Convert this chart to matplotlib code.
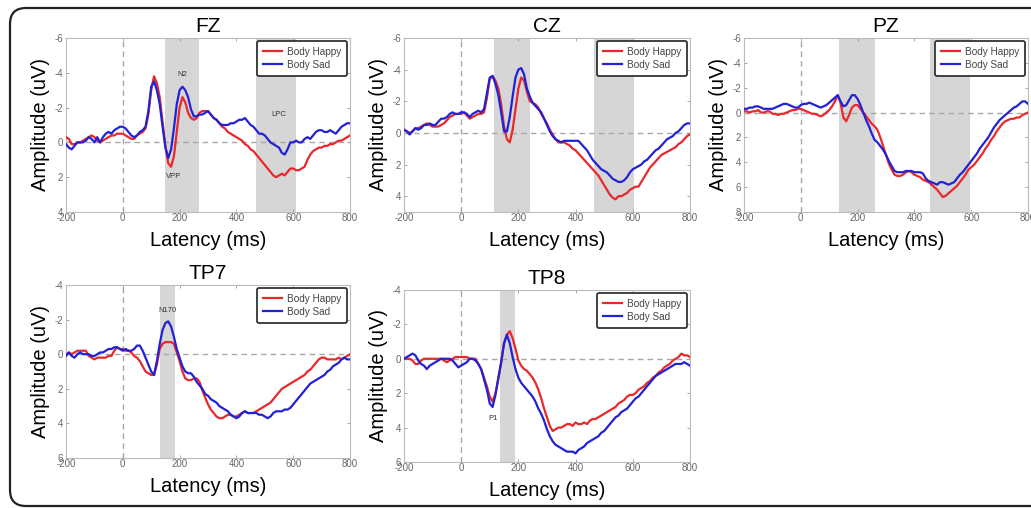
import numpy as np
import matplotlib
matplotlib.use('Agg')
import matplotlib.pyplot as plt
from matplotlib.patches import FancyBboxPatch

plt.rcParams['font.family'] = ['Liberation Sans', 'DejaVu Sans']
plt.rcParams['axes.unicode_minus'] = False

# latency axis, -200..800 ms in 10 ms steps
latency = list(range(-200, 801, 10))

fz_happy = [-0.3, -0.2, 0.1, 0.1, 0.0, 0.0, -0.1, -0.2, -0.3, -0.4,
            -0.3, -0.1, 0.0, -0.1, -0.2, -0.3, -0.4, -0.4, -0.5, -0.5,
            -0.5, -0.4, -0.3, -0.2, -0.2, -0.4, -0.5, -0.6, -0.8, -1.6,
            -3.0, -3.8, -3.4, -2.6, -1.2, 0.2, 1.2, 1.4, 0.8, -0.6,
            -2.0, -2.6, -2.3, -1.7, -1.4, -1.3, -1.4, -1.7, -1.8, -1.8,
            -1.8, -1.6, -1.4, -1.3, -1.1, -0.9, -0.8, -0.6, -0.5, -0.4,
            -0.3, -0.2, -0.1, 0.1, 0.2, 0.4, 0.5, 0.7, 0.9, 1.1,
            1.3, 1.5, 1.7, 1.9, 2.0, 1.9, 1.8, 1.9, 1.7, 1.5,
            1.5, 1.6, 1.6, 1.5, 1.4, 1.0, 0.7, 0.5, 0.4, 0.3,
            0.3, 0.2, 0.2, 0.1, 0.1, 0.0, -0.1, -0.1, -0.2, -0.3,
            -0.4]
fz_sad = [0.1, 0.3, 0.4, 0.2, 0.0, 0.0, 0.0, -0.1, -0.3, -0.2,
          0.0, -0.3, 0.0, -0.3, -0.5, -0.6, -0.5, -0.7, -0.8, -0.9,
          -0.9, -0.8, -0.6, -0.4, -0.3, -0.4, -0.6, -0.7, -0.9, -1.8,
          -3.2, -3.5, -3.0, -2.2, -0.9, 0.3, 0.9, 0.4, -0.8, -2.2,
          -3.0, -3.2, -3.0, -2.6, -1.9, -1.5, -1.5, -1.6, -1.6, -1.7,
          -1.8, -1.6, -1.4, -1.3, -1.1, -1.0, -1.0, -1.0, -1.1, -1.1,
          -1.2, -1.3, -1.3, -1.4, -1.2, -1.0, -0.9, -0.7, -0.5, -0.5,
          -0.4, -0.2, 0.0, 0.1, 0.2, 0.3, 0.6, 0.7, 0.4, 0.0,
          0.0, -0.1, 0.0, 0.0, -0.2, -0.3, -0.2, -0.4, -0.6, -0.7,
          -0.7, -0.6, -0.6, -0.7, -0.6, -0.5, -0.7, -0.9, -1.0, -1.1,
          -1.1]

cz_happy = [-0.2, -0.1, 0.0, -0.1, -0.3, -0.3, -0.4, -0.5, -0.6, -0.5,
            -0.4, -0.4, -0.4, -0.5, -0.6, -0.8, -1.0, -1.1, -1.2, -1.2,
            -1.2, -1.3, -1.1, -0.9, -1.0, -1.1, -1.2, -1.2, -1.3, -2.2,
            -3.4, -3.6, -3.3, -2.8, -1.8, -0.4, 0.4, 0.6, -0.2, -1.5,
            -2.8, -3.5, -3.3, -2.6, -2.0, -1.9, -1.8, -1.6, -1.2, -0.9,
            -0.6, -0.2, 0.1, 0.4, 0.6, 0.6, 0.6, 0.7, 0.8, 1.0,
            1.1, 1.3, 1.5, 1.7, 1.9, 2.1, 2.3, 2.5, 2.7, 3.0,
            3.3, 3.6, 3.9, 4.1, 4.2, 4.0, 4.0, 3.9, 3.8, 3.6,
            3.5, 3.4, 3.4, 3.1, 2.8, 2.5, 2.2, 2.0, 1.8, 1.6,
            1.4, 1.3, 1.2, 1.1, 1.0, 0.9, 0.7, 0.6, 0.4, 0.2,
            0.1]
cz_sad = [-0.2, -0.1, 0.1, -0.1, -0.3, -0.2, -0.3, -0.5, -0.5, -0.6,
          -0.5, -0.5, -0.7, -0.9, -0.9, -1.0, -1.2, -1.3, -1.2, -1.2,
          -1.3, -1.3, -1.2, -1.0, -1.2, -1.3, -1.4, -1.3, -1.5, -2.5,
          -3.5, -3.6, -3.1, -2.4, -1.3, -0.1, -0.1, -1.0, -2.3, -3.5,
          -4.0, -4.1, -3.7, -2.8, -2.3, -1.9, -1.7, -1.5, -1.3, -0.9,
          -0.5, -0.1, 0.2, 0.4, 0.5, 0.6, 0.5, 0.5, 0.5, 0.5,
          0.5, 0.5, 0.7, 0.9, 1.1, 1.4, 1.7, 1.9, 2.1, 2.3,
          2.4, 2.5, 2.7, 2.9, 3.0, 3.1, 3.1, 3.0, 2.8, 2.5,
          2.3, 2.2, 2.1, 2.0, 1.8, 1.7, 1.5, 1.3, 1.1, 1.0,
          0.8, 0.6, 0.4, 0.3, 0.2, 0.0, -0.1, -0.3, -0.5, -0.6,
          -0.6]

pz_happy = [-0.1, -0.1, 0.0, -0.1, -0.1, -0.2, 0.0, 0.0, -0.1, -0.1,
            0.1, 0.1, 0.2, 0.1, 0.1, 0.0, -0.1, -0.2, -0.2, -0.3,
            -0.3, -0.2, -0.1, 0.0, 0.1, 0.1, 0.2, 0.3, 0.2, 0.0,
            -0.2, -0.5, -0.9, -1.4, -0.8, 0.4, 0.7, 0.2, -0.4, -0.6,
            -0.6, -0.3, 0.0, 0.3, 0.6, 0.9, 1.1, 1.4, 2.0, 2.7,
            3.4, 4.1, 4.6, 5.0, 5.1, 5.1, 5.0, 4.8, 4.7, 4.8,
            5.0, 5.1, 5.2, 5.4, 5.5, 5.6, 5.8, 6.0, 6.2, 6.5,
            6.8, 6.7, 6.5, 6.3, 6.1, 5.9, 5.6, 5.3, 5.0, 4.6,
            4.4, 4.2, 3.9, 3.6, 3.3, 2.9, 2.6, 2.2, 1.9, 1.5,
            1.2, 0.9, 0.7, 0.6, 0.5, 0.5, 0.4, 0.4, 0.2, 0.1,
            0.0]
pz_sad = [-0.3, -0.3, -0.4, -0.4, -0.5, -0.5, -0.4, -0.3, -0.3, -0.3,
          -0.3, -0.4, -0.5, -0.6, -0.7, -0.7, -0.6, -0.5, -0.4, -0.4,
          -0.6, -0.7, -0.7, -0.8, -0.7, -0.6, -0.5, -0.4, -0.5, -0.6,
          -0.8, -1.0, -1.2, -1.4, -0.9, -0.5, -0.6, -1.0, -1.4, -1.4,
          -1.1, -0.6, 0.0, 0.6, 1.1, 1.7, 2.2, 2.4, 2.7, 3.0,
          3.4, 3.9, 4.3, 4.7, 4.8, 4.8, 4.8, 4.7, 4.7, 4.7,
          4.8, 4.8, 4.8, 4.9, 5.3, 5.5, 5.6, 5.7, 5.8, 5.6,
          5.6, 5.7, 5.8, 5.7, 5.6, 5.3, 5.0, 4.8, 4.5, 4.2,
          3.9, 3.6, 3.3, 2.9, 2.6, 2.3, 2.0, 1.6, 1.2, 0.9,
          0.6, 0.4, 0.2, 0.0, -0.2, -0.4, -0.5, -0.7, -0.9, -0.9,
          -0.7]

tp7_happy = [0.0, -0.1, 0.0, -0.1, -0.2, -0.2, -0.2, -0.2, 0.1, 0.2,
             0.3, 0.2, 0.2, 0.2, 0.2, 0.1, 0.1, -0.2, -0.4, -0.3,
             -0.3, -0.2, -0.2, -0.1, 0.1, 0.2, 0.4, 0.7, 1.0, 1.1,
             1.2, 1.2, 0.6, -0.3, -0.6, -0.7, -0.7, -0.7, -0.6, -0.1,
             0.4, 1.0, 1.4, 1.5, 1.5, 1.4, 1.4, 1.6, 2.1, 2.5,
             2.9, 3.2, 3.4, 3.6, 3.7, 3.7, 3.6, 3.5, 3.5, 3.6,
             3.6, 3.5, 3.4, 3.3, 3.4, 3.4, 3.4, 3.3, 3.2, 3.1,
             3.0, 2.9, 2.8, 2.6, 2.4, 2.2, 2.0, 1.9, 1.8, 1.7,
             1.6, 1.5, 1.4, 1.3, 1.2, 1.0, 0.9, 0.7, 0.5, 0.3,
             0.2, 0.2, 0.3, 0.3, 0.3, 0.3, 0.2, 0.3, 0.2, 0.1,
             0.0]
tp7_sad = [0.1, -0.1, 0.1, 0.2, 0.0, -0.1, 0.0, 0.0, 0.0, 0.1,
           0.1, 0.0, -0.1, -0.1, -0.2, -0.3, -0.3, -0.4, -0.4, -0.3,
           -0.2, -0.3, -0.2, -0.2, -0.3, -0.5, -0.5, -0.2, 0.2, 0.6,
           1.0, 1.2, 0.4, -0.6, -1.4, -1.8, -1.9, -1.6, -1.0, -0.3,
           0.2, 0.7, 1.0, 1.1, 1.1, 1.3, 1.6, 1.8, 2.0, 2.3,
           2.4, 2.6, 2.7, 2.8, 3.0, 3.1, 3.2, 3.3, 3.5, 3.6,
           3.7, 3.6, 3.4, 3.3, 3.4, 3.4, 3.4, 3.4, 3.5, 3.5,
           3.6, 3.7, 3.6, 3.4, 3.3, 3.3, 3.3, 3.2, 3.2, 3.1,
           2.9, 2.7, 2.5, 2.3, 2.1, 1.9, 1.7, 1.6, 1.5, 1.4,
           1.3, 1.2, 1.0, 0.9, 0.7, 0.6, 0.5, 0.3, 0.2, 0.3,
           0.3]

tp8_happy = [0.0, 0.0, 0.0, 0.1, 0.3, 0.3, 0.1, 0.0, 0.0, 0.0,
             0.0, 0.0, 0.0, 0.0, 0.1, 0.2, 0.1, 0.0, -0.1, -0.1,
             -0.1, -0.1, -0.1, 0.0, 0.0, 0.0, 0.3, 0.6, 1.1, 1.6,
             2.2, 2.5, 2.0, 1.2, 0.2, -0.9, -1.4, -1.6, -1.2, -0.6,
             0.1, 0.4, 0.6, 0.7, 0.9, 1.1, 1.4, 1.8, 2.3, 2.9,
             3.4, 3.9, 4.2, 4.1, 4.0, 4.0, 3.9, 3.8, 3.8, 3.9,
             3.7, 3.8, 3.8, 3.7, 3.8, 3.6, 3.5, 3.5, 3.4, 3.3,
             3.2, 3.1, 3.0, 2.9, 2.8, 2.6, 2.5, 2.4, 2.2, 2.1,
             2.1, 2.0, 1.8, 1.7, 1.6, 1.4, 1.3, 1.1, 1.0, 0.8,
             0.7, 0.5, 0.4, 0.3, 0.1, 0.0, -0.1, -0.3, -0.2, -0.2,
             -0.1]
tp8_sad = [0.0, -0.1, -0.2, -0.3, -0.2, 0.1, 0.3, 0.4, 0.6, 0.4,
           0.3, 0.2, 0.1, 0.0, 0.0, 0.0, 0.0, 0.1, 0.3, 0.5,
           0.4, 0.3, 0.2, 0.0, 0.0, 0.1, 0.3, 0.6, 1.2, 1.8,
           2.6, 2.8, 2.1, 1.1, 0.2, -0.9, -1.4, -0.9, -0.1, 0.6,
           1.1, 1.4, 1.6, 1.8, 2.0, 2.2, 2.5, 2.9, 3.2, 3.6,
           4.1, 4.5, 4.8, 5.0, 5.1, 5.2, 5.3, 5.4, 5.4, 5.4,
           5.5, 5.3, 5.2, 5.1, 4.9, 4.8, 4.7, 4.6, 4.5, 4.3,
           4.2, 4.0, 3.8, 3.6, 3.4, 3.3, 3.1, 3.0, 2.9, 2.7,
           2.5, 2.3, 2.2, 2.0, 1.8, 1.6, 1.4, 1.2, 1.0, 0.9,
           0.8, 0.7, 0.6, 0.5, 0.4, 0.3, 0.3, 0.3, 0.2, 0.3,
           0.4]

# analysis windows (ms) and component labels
fz_windows = [(150, 270), (470, 610)]
cz_windows = [(115, 240), (465, 605)]
pz_windows = [(135, 260), (455, 595)]
tp7_windows = [(130, 185)]
tp8_windows = [(135, 190)]

fz_notes = [('N2', 208, -3.9), ('VPP', 178, 1.95), ('LPC', 548, -1.6)]
tp7_notes = [('N170', 157, -2.5)]
tp8_notes = [('P1', 110, 3.5)]

RED = '#e8282b'
BLUE = '#2222d4'
SHADE = '#d6d6d6'


def draw_panel(rect, title, happy, sad, ylim, windows, notes):
    ax = fig.add_axes(rect)
    for a, b in windows:
        ax.axvspan(a, b, color=SHADE, lw=0, zorder=0)
    ax.axhline(0, color='#a8a8a8', lw=1.0, ls=(0, (4, 3)), zorder=1)
    ax.axvline(0, color='#a8a8a8', lw=1.0, ls=(0, (4, 3)), zorder=1)
    ax.plot(latency, happy, color=RED, lw=1.6, label='Body Happy', zorder=3)
    ax.plot(latency, sad, color=BLUE, lw=1.6, label='Body Sad', zorder=3)
    for txt, x, y in notes:
        ax.text(x, y, txt, fontsize=5.5, color='#333333', ha='center', va='center')

    ax.set_xlim(-200, 800)
    ax.set_ylim(ylim[1], ylim[0])
    ax.set_xticks([-200, 0, 200, 400, 600, 800])
    ax.set_yticks(np.arange(ylim[0], ylim[1] + 0.1, 2))
    ax.tick_params(direction='in', length=2.5, width=0.6, colors='#999999',
                   labelcolor='#666666', labelsize=7, top=True, right=True)
    ax.tick_params(axis='x', pad=0.5)
    ax.tick_params(axis='y', pad=2)
    for sp in ax.spines.values():
        sp.set_color('#bbbbbb')
        sp.set_linewidth(0.8)
    ax.set_title(title, fontsize=15, pad=4)
    ax.set_xlabel('Latency (ms)', fontsize=14.5, labelpad=6)
    ax.set_ylabel('Amplitude (uV)', fontsize=14.5, labelpad=3)

    leg = ax.legend(loc='upper right', fontsize=7.2, frameon=True, fancybox=True,
                    handlelength=1.9, handletextpad=0.45, labelspacing=0.3,
                    borderpad=0.6, borderaxespad=0.3)
    fr = leg.get_frame()
    fr.set_edgecolor('#333333')
    fr.set_linewidth(1.3)
    fr.set_alpha(1)
    for t in leg.get_texts():
        t.set_color('#444444')
    return ax


fig = plt.figure(figsize=(10.31, 5.08), dpi=100)

frame = FancyBboxPatch((0.10, 0.02), 10.6, 4.98,
                       boxstyle='round,pad=0,rounding_size=0.16',
                       transform=fig.dpi_scale_trans, fill=False,
                       edgecolor='#222222', linewidth=1.6)
fig.patches.append(frame)

draw_panel([0.064, 0.5827, 0.2755, 0.3425], 'FZ', fz_happy, fz_sad, (-6, 4), fz_windows, fz_notes)
draw_panel([0.3918, 0.5827, 0.2774, 0.3425], 'CZ', cz_happy, cz_sad, (-6, 5), cz_windows, [])
draw_panel([0.7216, 0.5827, 0.2755, 0.3425], 'PZ', pz_happy, pz_sad, (-6, 8), pz_windows, [])
draw_panel([0.064, 0.0984, 0.2755, 0.3406], 'TP7', tp7_happy, tp7_sad, (-4, 6), tp7_windows, tp7_notes)
draw_panel([0.3918, 0.0906, 0.2774, 0.3386], 'TP8', tp8_happy, tp8_sad, (-4, 6), tp8_windows, tp8_notes)

fig.savefig('out.png', dpi=100)
